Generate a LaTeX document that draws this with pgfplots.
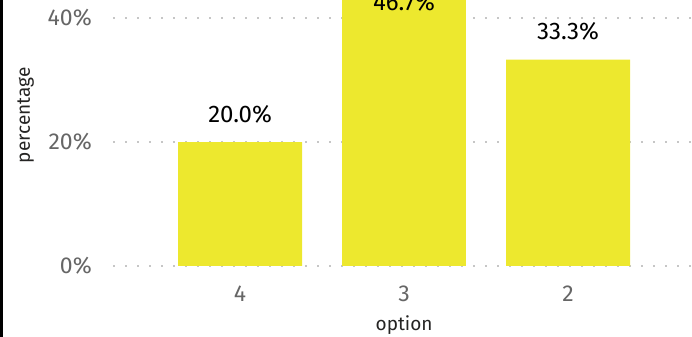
\documentclass[border=0pt]{standalone}
\usepackage{fontspec}
\setmainfont{Fira Sans}
\usepackage{pgfplots}
\pgfplotsset{compat=1.18}
\definecolor{baryellow}{RGB}{237,232,46}
\definecolor{ticktext}{RGB}{102,102,102}
\definecolor{labeltext}{RGB}{37,36,35}
\newcommand{\tickfont}{\fontsize{23bp}{27bp}\selectfont}
\newcommand{\datafont}{\fontsize{24bp}{28bp}\selectfont}
\newcommand{\labfont}{\fontsize{19bp}{23bp}\selectfont}

\begin{document}
\begin{tikzpicture}
\useasboundingbox (0,0) rectangle (692bp,337bp);
\clip (0,0) rectangle (692bp,337bp);
\begin{axis}[
    at={(113bp,71bp)}, anchor=south west,
    scale only axis,
    width=582.2bp, height=310bp,
    xmin=-0.775, xmax=2.775,
    ymin=0, ymax=50,
    ybar, bar width=124bp,
    axis line style={draw=none},
    tick style={draw=none},
    xtick={0,1,2}, xticklabels={4,3,2},
    ytick={0,20,40},
    yticklabel={\pgfmathprintnumber{\tick}\%},
    /pgf/number format/assume math mode=true,
    ymajorgrids,
    major grid style={gray!45, line width=1.6bp, dash pattern=on 1.6bp off 10.4bp},
    ticklabel style={font=\tickfont, text=ticktext},
    xticklabel style={anchor=base, yshift=-31bp},
    yticklabel style={anchor=east, inner sep=0pt, xshift=-21bp},
    xlabel={option}, ylabel={percentage},
    label style={font=\labfont, text=labeltext},
    xlabel style={at={(axis description cs:0.5,0)}, anchor=base, yshift=-64bp},
    ylabel style={at={(axis description cs:-0.1426,0.486)}, anchor=base},
    nodes near coords={\pgfmathprintnumber[fixed,fixed zerofill,precision=1]{\pgfplotspointmeta}\%},
    every node near coord/.append style={font=\datafont, text=black, anchor=base},
]
% bars with labels above
\addplot[fill=baryellow, draw=none, bar shift=0pt,
    every node near coord/.append style={yshift=20bp}]
    coordinates {(0,20.0) (2,33.3)};
% tallest bar, label inside its top end
\addplot[fill=baryellow, draw=none, bar shift=0pt,
    every node near coord/.append style={yshift=-34bp}]
    coordinates {(1,46.7)};
\end{axis}
\fill[black] (0,0) rectangle (2.7bp,337bp);
\end{tikzpicture}
\end{document}
